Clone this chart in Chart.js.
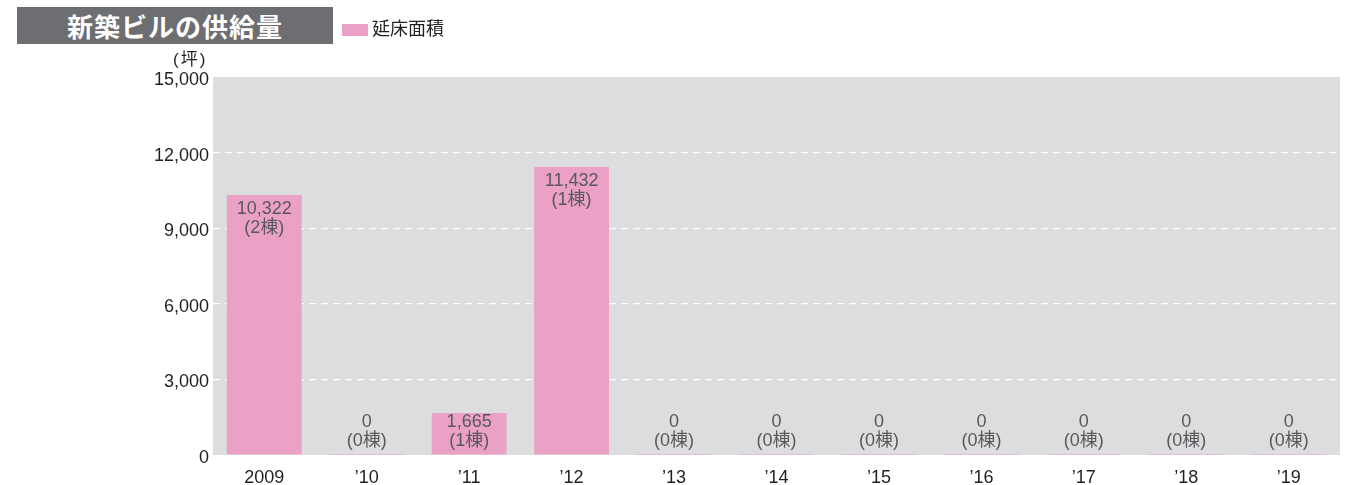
<!DOCTYPE html>
<html lang="ja">
<head>
<meta charset="utf-8">
<title>新築ビルの供給量</title>
<script src="https://cdn.jsdelivr.net/npm/chart.js@4/dist/chart.umd.min.js"></script>
<style>
  html, body { margin: 0; padding: 0; background: #fff; }
  body { width: 1357px; height: 485px; position: relative; overflow: hidden;
         font-family: "Liberation Sans", "Noto Sans CJK JP", sans-serif; }
  #wrap { position: absolute; left: 0; top: 0; width: 1357px; height: 485px; }
  .title { position: absolute; left: 17px; top: 7px; width: 316px; height: 37px;
           background: #6d6e71; color: #fff; font-weight: bold; font-size: 26px;
           line-height: 37px; text-align: center; letter-spacing: 1px;
           font-family: "Noto Sans CJK JP", sans-serif; }
  .legend { position: absolute; left: 342px; top: 15px; font-size: 18px; color: #231f20;
            font-family: "Noto Sans CJK JP", sans-serif; line-height: 24px; }
  .legend i { display: inline-block; width: 26px; height: 12px; background: #eba0c6;
              margin-right: 4px; vertical-align: -1px; }
  .unit { position: absolute; left: 173px; top: 50px; font-size: 17px; color: #231f20;
          line-height: 20px; letter-spacing: 2px;
          font-family: "Liberation Sans", "Noto Sans CJK JP", sans-serif; }
</style>
</head>
<body>
<div id="wrap"><canvas id="grafico" width="1357" height="485"></canvas></div>
<div class="title">新築ビルの供給量</div>
<div class="legend"><i></i>延床面積</div>
<div class="unit">(坪)</div>
<script>
// 年次ラベルと延床面積・棟数
const anios = ['2009', '’10', '’11', '’12', '’13', '’14', '’15', '’16', '’17', '’18', '’19'];
const superficie = [10322, 0, 1665, 11432, 0, 0, 0, 0, 0, 0, 0];
const edificios = [2, 0, 1, 1, 0, 0, 0, 0, 0, 0, 0];
const ticksY = [0, 3000, 6000, 9000, 12000, 15000];

const rosa = '#eba0c6';
const fondo = '#dcdddf';

// 描画エリアの灰色背景
const fondoArea = {
    id: 'fondoArea',
    beforeDraw(chart) {
        const { ctx, chartArea: a } = chart;
        ctx.save();
        ctx.fillStyle = fondo;
        ctx.fillRect(a.left, a.top, a.right - a.left, a.bottom - a.top);
        ctx.restore();
    }
};

// 棒の値と棟数のラベル
const etiquetas = {
    id: 'etiquetas',
    afterDatasetsDraw(chart) {
        const { ctx } = chart;
        const meta = chart.getDatasetMeta(0);
        const base = chart.scales.y.getPixelForValue(0);
        ctx.save();
        ctx.fillStyle = '#58595b';
        ctx.textAlign = 'center';
        ctx.textBaseline = 'middle';
        ctx.font = '18px "Liberation Sans", "Noto Sans CJK JP", sans-serif';
        meta.data.forEach((bar, i) => {
            const y = Math.min(bar.y + 14, base - 33);
            ctx.fillText(superficie[i].toLocaleString('en-US'), bar.x, y);
            ctx.fillText('(' + edificios[i] + '棟)', bar.x, y + 19);
        });
        ctx.restore();
    }
};

const ctx = document.getElementById('grafico').getContext('2d');
new Chart(ctx, {
    type: 'bar',
    data: {
        labels: anios,
        datasets: [{
            label: '延床面積',
            data: superficie,
            backgroundColor: rosa,
            borderWidth: 0,
            minBarLength: 1,
            barPercentage: 0.73,
            categoryPercentage: 1
        }]
    },
    options: {
        responsive: false,
        animation: false,
        devicePixelRatio: 1,
        layout: { padding: { left: 0, top: 77, right: 17, bottom: 0 } },
        plugins: {
            legend: { display: false },
            tooltip: { enabled: false }
        },
        scales: {
            x: {
                grid: { display: false },
                border: { display: false },
                ticks: {
                    color: '#231f20',
                    padding: 4,
                    font: { family: '"Liberation Sans", sans-serif', size: 18 }
                },
                afterFit(scale) { scale.height = 30; }
            },
            y: {
                min: 0,
                max: 15000,
                afterBuildTicks(scale) { scale.ticks = ticksY.map(v => ({ value: v })); },
                grid: {
                    color: c => (c.tick.value > 0 && c.tick.value < 15000) ? '#ffffff' : 'rgba(0,0,0,0)',
                    lineWidth: 1.2,
                    drawTicks: false
                },
                border: { display: false, dash: [7, 5] },
                ticks: {
                    color: '#231f20',
                    padding: 4,
                    labelOffset: 3,
                    font: { family: '"Liberation Sans", sans-serif', size: 18 },
                    callback: v => v.toLocaleString('en-US')
                },
                afterFit(scale) { scale.width = 213; }
            }
        }
    },
    plugins: [fondoArea, etiquetas]
});
</script>
</body>
</html>
